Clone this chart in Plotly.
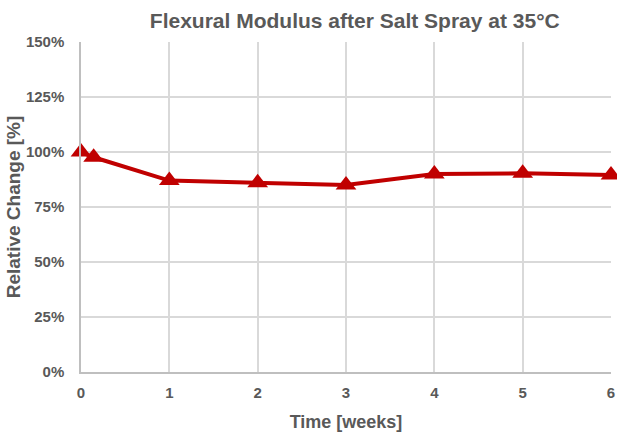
import plotly.graph_objects as go

# Exposure time in weeks and relative flexural modulus (%)
weeks = [0, 0.143, 1, 2, 3, 4, 5, 6]
modulus_pct = [100, 97.6, 87, 86, 85, 90, 90.3, 89.6]
modulus_err = [1.0, 1.0, 1.0, 1.0, 1.0, 1.0, 1.0, 1.0]

x_ticks = [0, 1, 2, 3, 4, 5, 6]
y_ticks = [0, 25, 50, 75, 100, 125, 150]
y_tick_labels = [f"{v}%" for v in y_ticks]

font_color = "#595959"
grid_color = "#d9d9d9"
axis_color = "#bfbfbf"

fig = go.Figure()
fig.add_trace(go.Scatter(
    x=weeks,
    y=modulus_pct,
    mode="lines+markers",
    line=dict(color="#C00000", width=4),
    marker=dict(symbol="triangle-up", size=18, color="#C00000"),
    error_y=dict(type="data", array=modulus_err, color="#595959", thickness=1, width=3),
    cliponaxis=False,
    showlegend=False,
))

fig.update_layout(
    width=617,
    height=432,
    margin=dict(l=81, r=6, t=42, b=60, autoexpand=False),
    paper_bgcolor="white",
    plot_bgcolor="white",
    font=dict(family="Liberation Sans, Arial, sans-serif", color=font_color),
    title=dict(
        text="<b>Flexural Modulus after Salt Spray at 35°C</b>",
        xref="container", x=0.575, xanchor="center",
        yref="container", y=0.953, yanchor="middle",
        font=dict(size=21, color=font_color),
    ),
)

fig.update_xaxes(
    range=[0, 6],
    tickvals=x_ticks,
    ticktext=[f"<b>{v}</b>" for v in x_ticks],
    tickfont=dict(size=15, color=font_color),
    ticklabelstandoff=6,
    showgrid=True, gridcolor=grid_color, gridwidth=1.5,
    showline=True, linecolor=axis_color, linewidth=1.5,
    zeroline=False,
    ticks="", ticklen=0,
    title=dict(text="<b>Time [weeks]</b>", font=dict(size=18, color=font_color), standoff=16),
)

fig.update_yaxes(
    range=[0, 150],
    tickvals=y_ticks,
    ticktext=[f"<b>{t}</b>" for t in y_tick_labels],
    tickfont=dict(size=15, color=font_color),
    ticklabelstandoff=12,
    showgrid=True, gridcolor=grid_color, gridwidth=1.5,
    showline=True, linecolor=axis_color, linewidth=1.5,
    zeroline=False,
    ticks="", ticklen=0,
    title=dict(text="<b>Relative Change [%]</b>", font=dict(size=19, color=font_color), standoff=0),
)

fig.write_html("out.html")
